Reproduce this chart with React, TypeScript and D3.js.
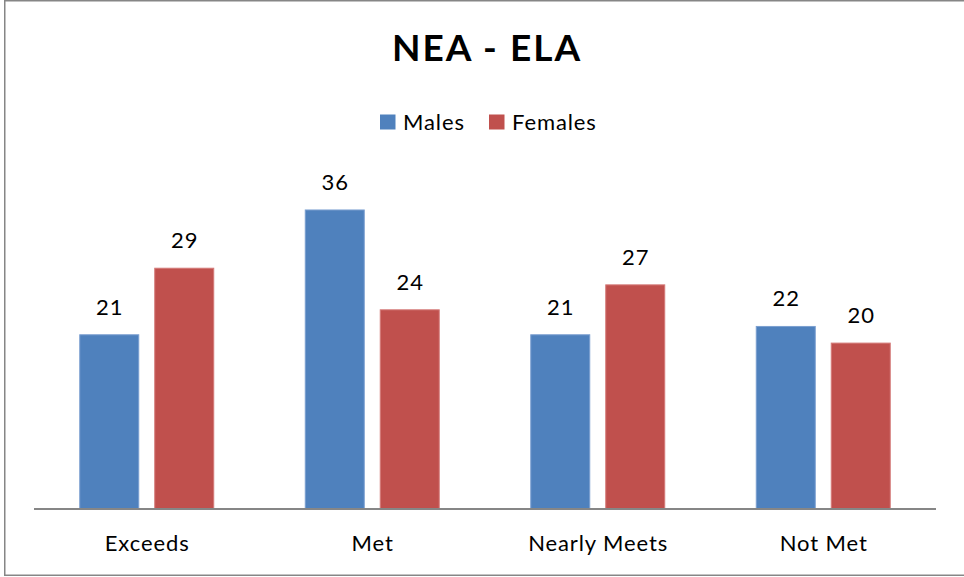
import React from "react";
import * as d3 from "d3";

const categories = ["Exceeds", "Met", "Nearly Meets", "Not Met"];
const seriesNames = ["Males", "Females"];
const males = [21, 36, 21, 22];
const females = [29, 24, 27, 20];
const colors = ["#4F81BD", "#C0504D"];
const strokes = ["#7b9fd0", "#d47a78"];
const title = "NEA - ELA";

const W = 964;
const H = 577;
const FONT = "Lato, 'Open Sans', sans-serif";
const LS = 0.9;

export default function App() {
  const seriesValues = [males, females];
  const x0 = d3.scaleBand<string>().domain(categories).range([34, 936]).padding(0);
  const bw = x0.bandwidth();
  const x1 = d3
    .scaleBand<string>()
    .domain(seriesNames)
    .range([bw * 0.2007, bw * 0.7993])
    .paddingInner(0.2)
    .paddingOuter(0);
  const y = d3.scaleLinear().domain([0, 40]).range([509, 176.2]);

  return (
    <svg
      width={W}
      height={H}
      style={{ position: "absolute", left: 0, top: 0, background: "#fff" }}
      fontFamily={FONT}
    >
      <rect x={0} y={0} width={W} height={H} fill="#fff" />
      <rect x={4.75} y={0.75} width={W + 10} height={574.5} fill="none" stroke="#868686" strokeWidth={1.5} />
      <text x={487} y={61} textAnchor="middle" fontSize={37} fontWeight={700} fill="#000" letterSpacing={2}>
        {title}
      </text>
      {/* legend */}
      {seriesNames.map((s, i) => {
        const lx = i === 0 ? 380 : 489;
        return (
          <g key={s}>
            <rect x={lx} y={114.5} width={15.5} height={15} fill={colors[i]} />
            <text x={lx + 23} y={129.5} fontSize={22} fill="#000" letterSpacing={LS}>
              {s}
            </text>
          </g>
        );
      })}
      {/* bars */}
      {categories.map((c) => (
        <g key={c} transform={`translate(${x0(c)},0)`}>
          {seriesNames.map((s, i) => {
            const v = seriesValues[i][categories.indexOf(c)];
            const bx = x1(s)!;
            return (
              <g key={s}>
                <rect
                  x={bx + 0.5}
                  y={y(v) + 0.5}
                  width={x1.bandwidth() - 1}
                  height={y(0) - y(v) - 0.5}
                  fill={colors[i]}
                  stroke={strokes[i]}
                  strokeWidth={1}
                />
                <text
                  x={bx + x1.bandwidth() / 2 + LS / 2}
                  y={y(v) - 19.5}
                  textAnchor="middle"
                  fontSize={22}
                  fill="#000"
                  letterSpacing={LS}
                >
                  {v}
                </text>
              </g>
            );
          })}
          <text x={bw / 2 + LS / 2} y={550.7} textAnchor="middle" fontSize={22} fill="#000" letterSpacing={LS}>
            {c}
          </text>
        </g>
      ))}
      <line x1={34} x2={936} y1={y(0)} y2={y(0)} stroke="#868686" strokeWidth={2} />
    </svg>
  );
}
